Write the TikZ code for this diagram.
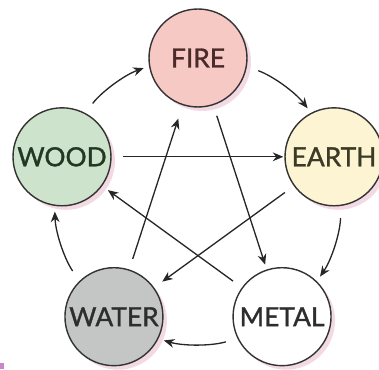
\documentclass[tikz,border=0pt]{standalone}
\usepackage{fontspec}
\setmainfont{Lato}
\newfontfamily\elemfont{Lato}[FakeBold=1.2]
\usetikzlibrary{arrows.meta,shadows}
\definecolor{firefill}{HTML}{F6C9C4}
\definecolor{woodfill}{HTML}{CEE3CB}
\definecolor{earthfill}{HTML}{FCF4D2}
\definecolor{waterfill}{HTML}{C4C6C6}
\definecolor{metalfill}{HTML}{FFFFFF}
\definecolor{firetext}{HTML}{4B2A2A}
\definecolor{woodtext}{HTML}{233823}
\definecolor{earthtext}{HTML}{3B3A26}
\definecolor{darktext}{HTML}{2D2D2D}
\definecolor{shadowpink}{HTML}{E8B4C4}
\definecolor{markpink}{HTML}{C987CC}
\begin{document}
\begin{tikzpicture}[x=0.02cm,y=0.02cm,
  elem/.style={circle,draw=black!80,line width=0.8pt,minimum size=1.96cm,inner sep=0pt,
    font=\elemfont\fontsize{15}{15}\selectfont,
    drop shadow={shadow xshift=0.08cm,shadow yshift=-0.08cm,fill=shadowpink,opacity=0.5}},
  arr/.style={-{Stealth[length=6pt,width=5pt]},line width=0.75pt,black!85}]
  % 画布
  \useasboundingbox (0,0) rectangle (379,369);
  \coordinate (c) at (198,168);
  % 五个圆（五边形顶点）
  \foreach \name/\txt/\ang/\fc/\tc in {fire/FIRE/90/firefill/firetext,
      earth/EARTH/18/earthfill/earthtext, metal/METAL/-54/metalfill/darktext,
      water/WATER/-126/waterfill/darktext, wood/WOOD/162/woodfill/woodtext}
    \node[elem,fill=\fc,text=\tc] (\name) at ([shift={(\ang:143)}]c) {\txt};
  % 外圈弧形箭头（相生）
  \foreach \from/\ang in {wood/162,fire/90,earth/18,metal/-54,water/-126}{
    \pgfmathtruncatemacro{\anc}{mod(\ang+620,360)}
    \pgfmathsetmacro{\sa}{\ang-19.7}
    \pgfmathsetmacro{\ea}{\ang-52.3}
    \draw[arr,shorten <=0.24cm,shorten >=0.14cm] (\from.\anc) arc[start angle=\sa,end angle=\ea,radius=143];
  }
  % 内部直线箭头（相克）
  \foreach \from/\to/\gap in {wood/earth/0.02cm,fire/metal/0.1cm,earth/water/0.2cm,
      water/fire/0.28cm,metal/wood/0.14cm}
    \draw[arr,shorten <=0.22cm,shorten >=\gap] (\from) -- (\to);
  % 左下角小标记
  \fill[markpink] (0,0) rectangle (4,6);
\end{tikzpicture}
\end{document}
